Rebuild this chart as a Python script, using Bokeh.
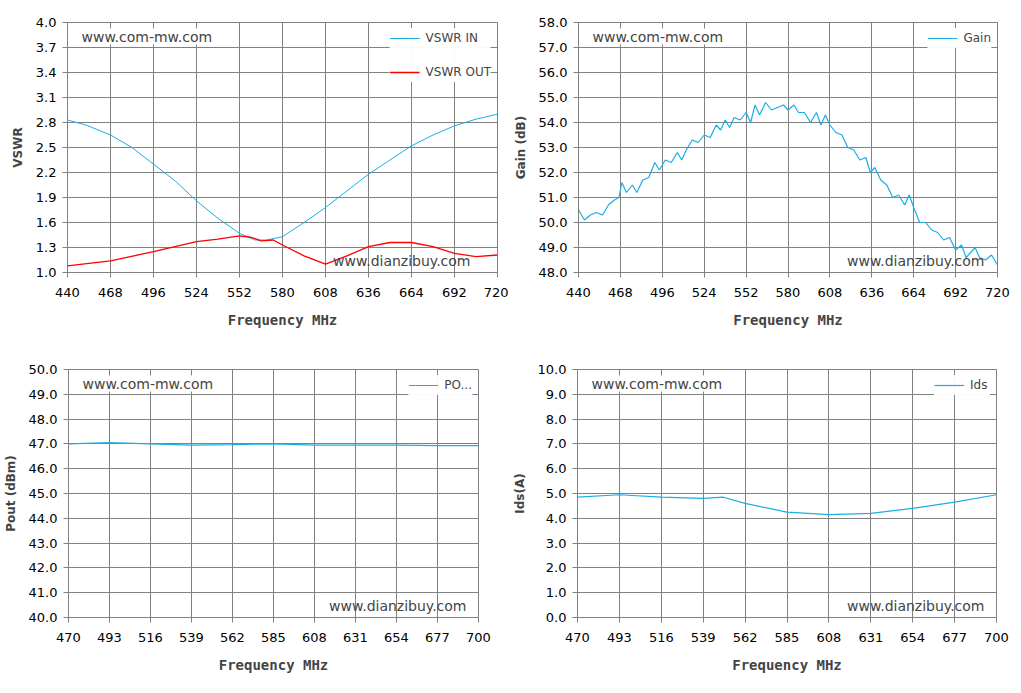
from bokeh.plotting import figure
from bokeh.layouts import column, row
from bokeh.models import FixedTicker, PrintfTickFormatter, Label, Legend, LegendItem, Range1d
from bokeh.embed import file_html
from bokeh.resources import INLINE

f_vin = [440,452,468,482,496,510,524,538,552,562,570,580,594,608,622,636,650,664,678,692,706,720]
vswr_in = [2.83,2.77,2.65,2.5,2.3,2.1,1.86,1.65,1.47,1.39,1.39,1.43,1.6,1.78,1.98,2.18,2.35,2.52,2.65,2.76,2.84,2.9]
f_vout = [440,468,496,524,538,552,560,566,574,580,594,608,622,636,650,664,678,692,706,720]
vswr_out = [1.08,1.14,1.25,1.37,1.4,1.44,1.42,1.38,1.39,1.33,1.2,1.1,1.2,1.31,1.36,1.36,1.31,1.23,1.19,1.21]
f_gain = [440,444,448,452,456,460,464,467,469,472,476,479,483,487,491,494,498,502,506,509,512,516,520,524,528,532,535,538,541,544,548,552,555,558,561,565,569,573,577,580,584,587,591,595,599,602,605,608,612,616,620,624,628,632,635,638,642,646,650,654,658,661,664,668,672,676,680,684,688,692,696,699,702,705,708,712,716,720]
gain = [50.5,50.1,50.3,50.4,50.3,50.7,50.9,51.0,51.6,51.2,51.5,51.2,51.7,51.8,52.4,52.1,52.5,52.4,52.8,52.5,52.9,53.3,53.2,53.5,53.4,53.9,53.7,54.1,53.8,54.2,54.1,54.4,54.0,54.7,54.3,54.8,54.5,54.6,54.7,54.5,54.7,54.4,54.4,54.0,54.4,53.9,54.3,53.9,53.6,53.5,53.0,52.9,52.5,52.6,52.0,52.2,51.7,51.5,51.0,51.1,50.7,51.1,50.6,50.0,50.0,49.7,49.6,49.3,49.4,48.9,49.1,48.6,48.8,49.0,48.6,48.5,48.7,48.3]
f_b = [470,493,516,539,562,585,608,631,654,677,700]
pout = [47.0,47.05,47.0,46.95,46.97,47.0,46.95,46.95,46.95,46.93,46.93]
f_ids = [470,493,516,539,550,562,585,608,631,654,677,700]
ids = [4.85,4.95,4.85,4.8,4.85,4.6,4.25,4.15,4.2,4.4,4.65,4.95]

top_ticks = list(range(440, 721, 28))
bot_ticks = list(range(470, 701, 23))
BLUE = "#1AAEE5"
RED = "#FF0000"

def mk(xr, xt, yr, yt, ylabel, fw, fh, bl, br, bt, bb, wm_off):
    p = figure(frame_width=fw, frame_height=fh, min_border_left=bl, min_border_right=br,
               min_border_top=bt, min_border_bottom=bb, output_backend="svg",
               toolbar_location=None, x_range=Range1d(*xr), y_range=Range1d(*yr))
    p.xaxis.ticker = FixedTicker(ticks=xt)
    p.yaxis.ticker = FixedTicker(ticks=yt)
    p.yaxis.formatter = PrintfTickFormatter(format="%.1f")
    for ax in (p.xaxis, p.yaxis):
        ax.major_label_text_font = "DejaVu Sans"
        ax.major_label_text_font_size = "13px"
        ax.major_label_text_color = "black"
        ax.axis_line_color = "#808080"
        ax.major_tick_line_color = "#808080"
        ax.minor_tick_line_color = None
        ax.major_tick_out = 5
        ax.major_tick_in = 0
    p.xaxis.major_label_standoff = 10
    p.yaxis.major_label_standoff = 6
    p.xaxis.axis_label = "Frequency MHz"
    p.xaxis.axis_label_text_font = "DejaVu Sans Mono"
    p.xaxis.axis_label_text_font_style = "bold"
    p.xaxis.axis_label_text_font_size = "14px"
    p.xaxis.axis_label_standoff = 12
    p.yaxis.axis_label = ylabel
    p.yaxis.axis_label_text_font = "DejaVu Sans"
    p.yaxis.axis_label_text_font_style = "bold"
    p.yaxis.axis_label_text_font_size = "12px"
    p.yaxis.axis_label_standoff = 8
    p.grid.grid_line_color = "#808080"
    p.grid.grid_line_alpha = 1
    p.outline_line_color = "#808080"
    p.background_fill_color = "white"
    p.border_fill_color = "white"
    p.add_layout(Label(x=14, y=fh-22, x_units="screen", y_units="screen", text="www.com-mw.com",
                       text_font="DejaVu Sans", text_font_size="14px", background_fill_color="white"))
    p.add_layout(Label(x=fw-wm_off, y=4, x_units="screen", y_units="screen", text="www.dianzibuy.com",
                       text_align="right", text_font="DejaVu Sans", text_font_size="14px"))
    return p

def leg(p, items):
    l = Legend(items=items, location="top_right", background_fill_color="white", border_line_color=None,
               label_text_font="DejaVu Sans", label_text_font_size="12px", glyph_width=30,
               label_standoff=6, spacing=14, margin=6, padding=8)
    p.add_layout(l)

p1 = mk((440,720), top_ticks, (1.0,4.0), [1.0+0.3*i for i in range(11)], "VSWR", 430, 250, 67, 11, 18, 76, 27)
r1 = p1.line(f_vin, vswr_in, color=BLUE, line_width=1)
r2 = p1.line(f_vout, vswr_out, color=RED, line_width=1.3)
leg(p1, [LegendItem(label="VSWR IN", renderers=[r1]), LegendItem(label="VSWR OUT", renderers=[r2])])

p2 = mk((440,720), top_ticks, (48,58), list(range(48,59)), "Gain (dB)", 419, 250, 70, 15, 22, 72, 13)
r3 = p2.line(f_gain, gain, color=BLUE, line_width=1.2)
leg(p2, [LegendItem(label="Gain", renderers=[r3])])

p3 = mk((470,700), bot_ticks, (40,50), list(range(40,51)), "Pout (dBm)", 410, 248, 67, 31, 25, 60, 12)
r4 = p3.line(f_b, pout, color=BLUE, line_width=1.2)
leg(p3, [LegendItem(label="PO...", renderers=[r4])])

p4 = mk((470,700), bot_ticks, (0,10), list(range(0,11)), "Ids(A)", 419, 248, 62, 15, 25, 60, 12)
r5 = p4.line(f_ids, ids, color=BLUE, line_width=1.2)
leg(p4, [LegendItem(label="Ids", renderers=[r5])])

layout = column(row(p1, p2, spacing=0), row(p3, p4, spacing=0), spacing=0)
open("out.html", "w").write(file_html(layout, INLINE))
